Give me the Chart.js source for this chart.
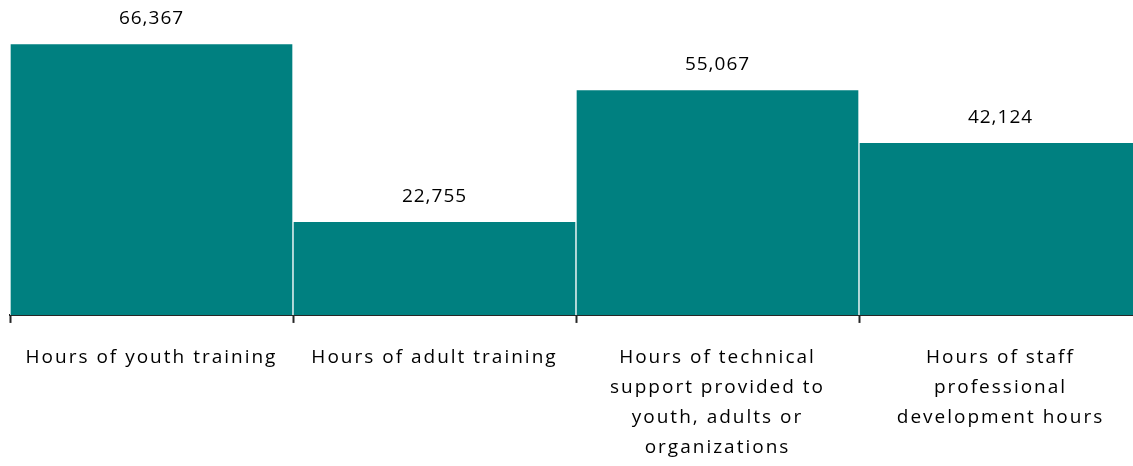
<!DOCTYPE html>
<html>
<head>
<meta charset="utf-8">
<script src="https://cdn.jsdelivr.net/npm/chart.js@4/dist/chart.umd.min.js"></script>
<style>
html,body{margin:0;padding:0;background:#fff;overflow:hidden;}
#wrap{width:1142px;height:466px;overflow:hidden;}
</style>
</head>
<body>
<div id="wrap"><canvas id="c" width="1142" height="483"></canvas></div>
<script>
const categories = [
  ["Hours of youth training"],
  ["Hours of adult training"],
  ["Hours of technical", "support provided to", "youth, adults or", "organizations"],
  ["Hours of staff", "professional", "development hours"]
];
const values = [66367, 22755, 55067, 42124];
const valueLabels = ["66,367", "22,755", "55,067", "42,124"];
const yMax = 75000;

const FONT = '"Open Sans", "Liberation Sans", sans-serif';

const spacingPlugin = {
  id: 'spacing',
  beforeInit(chart) { chart.ctx.letterSpacing = '2px'; },
  beforeUpdate(chart) { chart.ctx.letterSpacing = '2px'; },
  beforeDraw(chart) { chart.ctx.letterSpacing = '2px'; }
};

const valuePlugin = {
  id: 'valueLabels',
  afterDatasetsDraw(chart) {
    const ctx = chart.ctx;
    const meta = chart.getDatasetMeta(0);
    ctx.save();
    ctx.letterSpacing = '1px';
    ctx.font = '19px ' + FONT;
    ctx.fillStyle = '#000';
    ctx.textAlign = 'center';
    ctx.textBaseline = 'middle';
    meta.data.forEach((el, i) => {
      ctx.fillText(valueLabels[i], el.x, el.y - 26);
    });
    ctx.restore();
  }
};

new Chart(document.getElementById('c'), {
  type: 'bar',
  data: {
    labels: categories,
    datasets: [{
      data: values,
      backgroundColor: '#008080',
      borderColor: '#ffffff',
      borderWidth: {left: 1, right: 1, top: 0, bottom: 0},
      borderSkipped: false,
      barPercentage: 1,
      categoryPercentage: 1
    }]
  },
  options: {
    responsive: false,
    animation: false,
    layout: {padding: {left: 10, right: 0, top: 9, bottom: 0}},
    plugins: {legend: {display: false}, tooltip: {enabled: false}},
    scales: {
      y: {display: false, min: 0, max: yMax},
      x: {
        grid: {display: true, drawOnChartArea: false, offset: true, tickLength: 8, tickColor: '#262626', tickWidth: 2},
        border: {display: true, color: '#262626', width: 2},
        ticks: {color: '#000', padding: 20, maxRotation: 0, autoSkip: false,
          font: {family: FONT, size: 19, lineHeight: 1.58}}
      }
    }
  },
  plugins: [spacingPlugin, valuePlugin]
});
</script>
</body>
</html>
